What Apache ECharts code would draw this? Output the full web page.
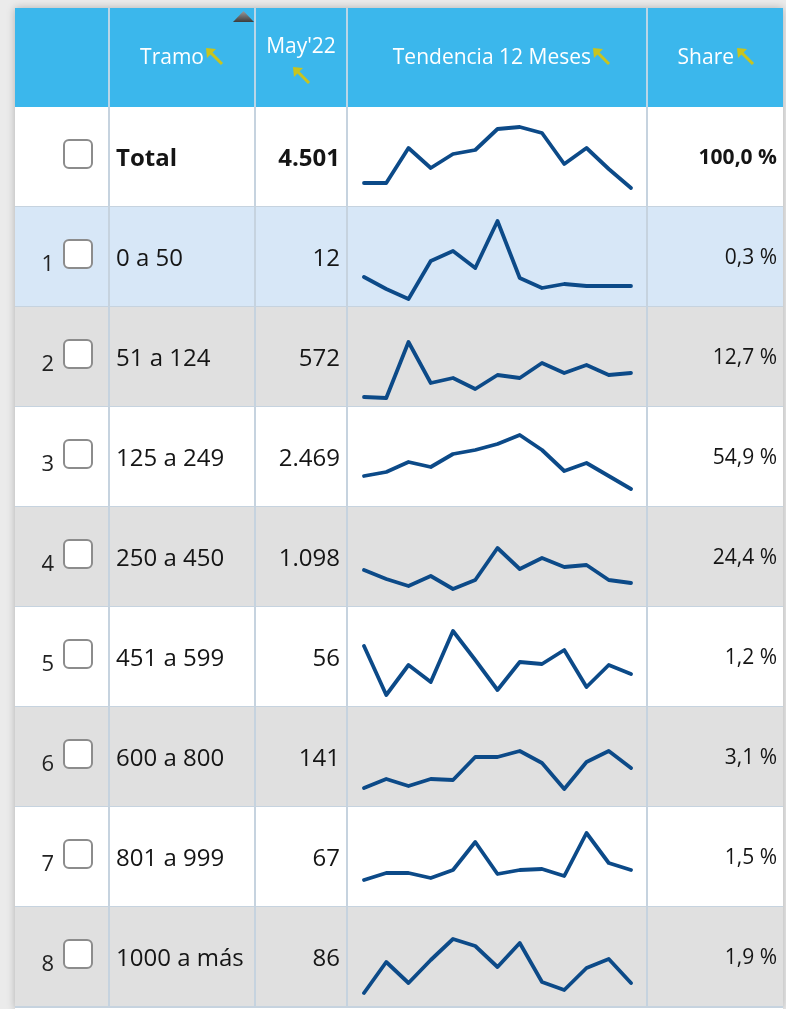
<!DOCTYPE html>
<html>
<head>
<meta charset="utf-8">
<title>Tramo - Tendencia 12 Meses</title>
<script src="https://cdn.jsdelivr.net/npm/echarts@6/dist/echarts.min.js"></script>
<style>
  html, body { margin: 0; padding: 0; background: #ebebeb; }
  #chart { width: 786px; height: 1009px; }
</style>
</head>
<body>
<div id="chart"></div>
<script>
// datos
const months = ['May-21', 'Jun-21', 'Jul-21', 'Ago-21', 'Set-21', 'Oct-21', 'Nov-21',
  'Dic-21', 'Ene-22', 'Feb-22', 'Mar-22', 'Abr-22', 'May-22'];
const rowNums = ['', '1', '2', '3', '4', '5', '6', '7', '8'];
const tramos = ['Total', '0 a 50', '51 a 124', '125 a 249', '250 a 450', '451 a 599', '600 a 800', '801 a 999', '1000 a más'];
const mayValues = ['4.501', '12', '572', '2.469', '1.098', '56', '141', '67', '86'];
const shares = ['100,0 %', '0,3 %', '12,7 %', '54,9 %', '24,4 %', '1,2 %', '3,1 %', '1,5 %', '1,9 %'];

// tendencia (altura relativa de la sparkline, 0-100)
const trendTotal = [24, 24, 59, 39, 53, 57, 78, 80, 74, 43, 59, 38, 19];
const trend1 = [30, 18, 8, 46, 56, 39, 86, 29, 19, 23, 21, 21, 21];
const trend2 = [10, 9, 65, 24, 29, 18, 32, 29, 44, 34, 42, 32, 34];
const trend3 = [31, 35, 45, 40, 53, 57, 63, 72, 57, 36, 44, 31, 18];
const trend4 = [37, 28, 21, 31, 18, 27, 59, 38, 49, 40, 42, 27, 24];
const trend5 = [61, 12, 42, 25, 76, 47, 17, 45, 43, 57, 20, 42, 33];
const trend6 = [19, 28, 21, 28, 27, 50, 50, 56, 44, 18, 45, 56, 39];
const trend7 = [27, 34, 34, 29, 37, 65, 33, 37, 38, 31, 74, 44, 37];
const trend8 = [14, 45, 24, 47, 68, 61, 40, 64, 25, 17, 39, 48, 24];
const trends = [trendTotal, trend1, trend2, trend3, trend4, trend5, trend6, trend7, trend8];

const rowColors = ['#ffffff', '#d7e7f7', '#e0e0e0', '#ffffff', '#e0e0e0', '#ffffff', '#e0e0e0', '#ffffff', '#e0e0e0'];

const FONT = '"Open Sans", "Noto Sans", sans-serif';
const lineColor = '#c6d3df';
const headerColor = '#3bb7ec';
const arrowColor = '#c8c41e';
const colEdges = [109, 255, 347, 647];
const tableLeft = 15, tableRight = 783, headerTop = 8, bodyTop = 107, rowH = 100;

const chart = echarts.init(document.getElementById('chart'), null, { renderer: 'canvas' });

function renderRow(params, api) {
  const i = api.value(0);
  const cy = api.coord([0, i])[1];
  const h = api.size([0, 1])[1];
  const top = cy - h / 2;
  const bold = i === 0 ? 'bold' : 'normal';
  const x = (v) => api.coord([v, i])[0];
  const children = [
    { type: 'rect', shape: { x: x(tableLeft), y: top, width: x(tableRight) - x(tableLeft), height: h }, style: { fill: rowColors[i] } },
    { type: 'line', shape: { x1: x(tableLeft), y1: top + h, x2: x(tableRight), y2: top + h }, style: { stroke: lineColor, lineWidth: 2 } }
  ];
  colEdges.forEach((e) => {
    children.push({ type: 'line', shape: { x1: x(e), y1: top, x2: x(e), y2: top + h }, style: { stroke: lineColor, lineWidth: 2 } });
  });
  // checkbox
  children.push({
    type: 'rect', shape: { x: x(64), y: cy - 17, width: 28, height: 28, r: 5 },
    style: { fill: '#ffffff', stroke: '#8c8c8c', lineWidth: 2 }
  });
  if (rowNums[i]) {
    children.push({ type: 'text', x: x(54), y: cy + 8, style: { text: rowNums[i], fill: '#222', font: '22px ' + FONT, align: 'right', verticalAlign: 'middle' } });
  }
  children.push({ type: 'text', x: x(116), y: cy + 2, style: { text: tramos[i], fill: '#151515', font: bold + ' 24px ' + FONT, align: 'left', verticalAlign: 'middle' } });
  children.push({ type: 'text', x: x(340), y: cy + 2, style: { text: mayValues[i], fill: '#151515', font: bold + ' 24px ' + FONT, align: 'right', verticalAlign: 'middle' } });
  children.push({ type: 'text', x: x(777), y: cy + 1, style: { text: shares[i], fill: '#151515', font: bold + ' 21px ' + FONT, align: 'right', verticalAlign: 'middle' } });
  return { type: 'group', children };
}

const grids = [{ left: 0, top: bodyTop, width: 786, height: rowH * tramos.length }];
const xAxes = [{ type: 'value', min: 0, max: 786, show: false, gridIndex: 0 }];
const yAxes = [{ type: 'category', data: tramos, inverse: true, show: false, gridIndex: 0 }];
const series = [{
  type: 'custom',
  xAxisIndex: 0,
  yAxisIndex: 0,
  renderItem: renderRow,
  clip: false,
  z: 1,
  data: tramos.map((t, i) => [i]),
  encode: { y: 0 }
}];

trends.forEach((d, i) => {
  const g = i + 1;
  grids.push({ left: 364, width: 267, top: bodyTop + rowH * i, height: rowH });
  xAxes.push({ type: 'category', data: months, boundaryGap: false, show: false, gridIndex: g });
  yAxes.push({ type: 'value', min: 0, max: 100, show: false, gridIndex: g });
  series.push({
    type: 'line',
    name: tramos[i],
    xAxisIndex: g,
    yAxisIndex: g,
    data: d,
    symbol: 'none',
    z: 5,
    lineStyle: { color: '#0c4a88', width: 3.8, cap: 'round', join: 'round' }
  });
});

function headerText(text, x, y, align) {
  return { type: 'text', x, y, z: 10, style: { text, fill: '#ffffff', font: '21px ' + FONT, align: align || 'center', verticalAlign: 'middle' } };
}
// flecha amarilla de orden (punta arriba-izquierda)
function arrow(x, y) {
  return {
    type: 'group', x, y, z: 10,
    children: [
      { type: 'line', z: 10, shape: { x1: 3, y1: 3, x2: 16, y2: 16 }, style: { stroke: arrowColor, lineWidth: 3 } },
      { type: 'polygon', z: 10, shape: { points: [[0, 0], [10, 1], [1, 10]] }, style: { fill: arrowColor } }
    ]
  };
}

const graphic = [
  { type: 'rect', z: 0, shape: { x: tableLeft, y: headerTop, width: tableRight - tableLeft, height: 1009 - headerTop }, style: { fill: '#ffffff', shadowBlur: 8, shadowColor: 'rgba(0,0,0,0.25)' } },
  { type: 'rect', z: 8, shape: { x: tableLeft, y: headerTop, width: tableRight - tableLeft, height: bodyTop - headerTop }, style: { fill: headerColor } }
];
colEdges.forEach((e) => {
  graphic.push({ type: 'line', z: 9, shape: { x1: e, y1: headerTop, x2: e, y2: bodyTop }, style: { stroke: '#b9d6e8', lineWidth: 2 } });
});
graphic.push(
  headerText('Tramo', 204, 58, 'right'), arrow(206, 48),
  headerText("May'22", 301, 47), arrow(293, 67),
  headerText('Tendencia 12 Meses', 591, 58, 'right'), arrow(593, 48),
  headerText('Share', 734, 58, 'right'), arrow(737, 48),
  {
    type: 'polygon', z: 10,
    shape: { points: [[233, 22], [254, 22], [243.5, 11]] },
    style: { fill: new echarts.graphic.LinearGradient(0, 0, 0, 1, [{ offset: 0, color: '#9a9a9a' }, { offset: 1, color: '#3c3c3c' }]) }
  }
);

const option = {
  backgroundColor: '#ebebeb',
  animation: false,
  grid: grids,
  xAxis: xAxes,
  yAxis: yAxes,
  graphic,
  series
};
chart.setOption(option);
</script>
</body>
</html>
